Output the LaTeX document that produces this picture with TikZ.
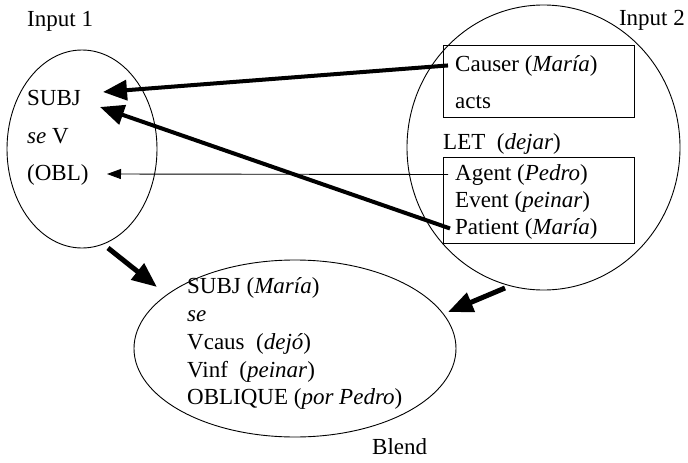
\documentclass[tikz,border=0pt]{standalone}
\usepackage{fontspec}
\setmainfont{Liberation Serif}
\usetikzlibrary{arrows.meta,shapes.geometric}
\tikzset{
  every node/.style={font=\fontsize{23}{27}\selectfont},
  ell/.style={draw, ellipse, inner sep=0pt, line width=0.9pt},
  boxn/.style={draw, rectangle, inner sep=0pt, line width=0.9pt},
  txt/.style={anchor=base west, inner sep=0pt},
  thickarrow/.style={line width=4pt, -{Triangle[length=24pt,width=20pt]}},
  thinarrow/.style={line width=0.9pt, -{Triangle[length=14pt,width=10pt]}},
  blockarrow/.style={line width=5pt, -{Triangle[length=25pt,width=20pt]}},
}
\begin{document}
\begin{tikzpicture}[x=1pt,y=-1pt]
\useasboundingbox (0,0) rectangle (688,463);
% ellipses
\node[ell, minimum width=150pt, minimum height=198pt] (in1) at (82,149) {};
\node[ell, minimum width=273pt, minimum height=285pt] (in2) at (543.5,147.5) {};
\node[ell, minimum width=322pt, minimum height=177pt] (blend) at (295,348.5) {};
% boxes
\node[boxn, minimum width=191pt, minimum height=72pt] (box1) at (538.5,81) {};
\node[boxn, minimum width=191pt, minimum height=86pt] (box2) at (538.5,200) {};
% labels
\node[txt] (lab1) at (27,26) {Input 1};
\node[txt, anchor=base east] (lab2) at (685,25) {Input 2};
\node[txt] (lab3) at (372,454) {Blend};
% input 1
\node[txt] (subj) at (27,105) {SUBJ};
\node[txt] (sev) at (27,143) {\textit{se} V};
\node[txt] (obl) at (27,180) {(OBL)};
% input 2
\node[txt] (causer) at (455,71) {Causer (\textit{María})};
\node[txt] (acts) at (455,108) {acts};
\node[txt] (let) at (443,149) {LET\ \ (\textit{dejar})};
\node[txt] (agent) at (455,180) {Agent (\textit{Pedro})};
\node[txt] (event) at (455,207) {Event (\textit{peinar})};
\node[txt] (patient) at (455,234) {Patient (\textit{María})};
% blend
\node[txt] (b1) at (187,293) {SUBJ (\textit{María})};
\node[txt] (b2) at (187,321) {\textit{se}};
\node[txt] (b3) at (187,349) {Vcaus\ \ (\textit{dejó})};
\node[txt] (b4) at (187,377) {Vinf\ \ (\textit{peinar})};
\node[txt] (b5) at (187,404) {OBLIQUE (\textit{por Pedro})};
% connector ends
\coordinate (t1) at (103,92);
\coordinate (t2) at (100,107);
\coordinate (t3) at (107,174);
\coordinate (s4) at (108,248);
\coordinate (t4) at (157,287);
\coordinate (s5) at (505,288);
\coordinate (t5) at (448,312);
% connectors
\draw[thickarrow] ([xshift=-7pt]causer.west) -- (t1);
\draw[thickarrow] ([xshift=-5pt]patient.west) -- (t2);
\draw[thinarrow] ([xshift=-7pt]agent.west) -- (t3);
\draw[blockarrow] (s4) -- (t4);
\draw[blockarrow] (s5) -- (t5);
\end{tikzpicture}
\end{document}
